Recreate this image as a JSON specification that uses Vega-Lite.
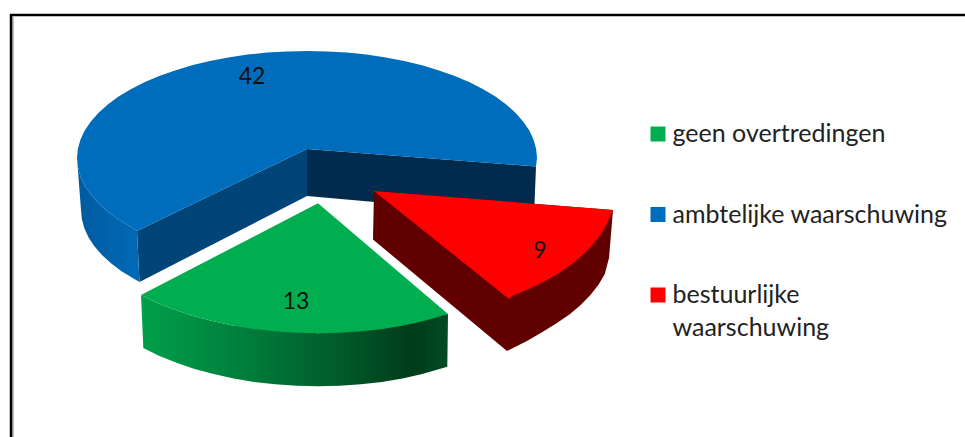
{"$schema":"https://vega.github.io/schema/vega-lite/v6.json","width":965,"height":437,"padding":0,"autosize":"none","background":"white","view":{"stroke":null},
"config":{"style":{"guide-label":{"lineHeight":32.5}}},
"data":{"values":[
{"part":"frame","i":0,"x":11,"y":437},{"part":"frame","i":1,"x":11,"y":15},{"part":"frame","i":2,"x":965,"y":15},
{"part":"frameShade","i":0,"x":13,"y":437},{"part":"frameShade","i":1,"x":13,"y":17},
{"part":"blueOuter","i":0,"x":77,"y":158},{"part":"blueOuter","i":1,"x":77.9,"y":167.3},{"part":"blueOuter","i":2,"x":80.5,"y":176.6},{"part":"blueOuter","i":3,"x":84.8,"y":185.7},{"part":"blueOuter","i":4,"x":90.9,"y":194.6},{"part":"blueOuter","i":5,"x":98.6,"y":203.3},{"part":"blueOuter","i":6,"x":107.8,"y":211.5},{"part":"blueOuter","i":7,"x":118.6,"y":219.4},{"part":"blueOuter","i":8,"x":130.8,"y":226.8},{"part":"blueOuter","i":9,"x":137,"y":231},{"part":"blueOuter","i":10,"x":139.5,"y":282},{"part":"blueOuter","i":11,"x":133.9,"y":278.8},{"part":"blueOuter","i":12,"x":121.9,"y":271.4},{"part":"blueOuter","i":13,"x":111.3,"y":263.5},{"part":"blueOuter","i":14,"x":102.2,"y":255.2},{"part":"blueOuter","i":15,"x":94.6,"y":246.6},{"part":"blueOuter","i":16,"x":88.7,"y":237.7},{"part":"blueOuter","i":17,"x":84.4,"y":228.6},{"part":"blueOuter","i":18,"x":81.9,"y":219.3},{"part":"blueOuter","i":19,"x":81,"y":210},
{"part":"blueLeft","i":0,"x":137,"y":231},{"part":"blueLeft","i":1,"x":307,"y":149},{"part":"blueLeft","i":2,"x":307,"y":196},{"part":"blueLeft","i":3,"x":139.5,"y":282},
{"part":"blueRight","i":0,"x":307,"y":149},{"part":"blueRight","i":1,"x":536,"y":166.5},{"part":"blueRight","i":2,"x":534,"y":216},{"part":"blueRight","i":3,"x":307,"y":196},
{"part":"greenSide","i":0,"x":141,"y":295},{"part":"greenSide","i":1,"x":157.3,"y":302.9},{"part":"greenSide","i":2,"x":174.6,"y":309.8},{"part":"greenSide","i":3,"x":193,"y":315.9},{"part":"greenSide","i":4,"x":212.3,"y":321.1},{"part":"greenSide","i":5,"x":232.5,"y":325.5},{"part":"greenSide","i":6,"x":318,"y":333.3},{"part":"greenSide","i":7,"x":448,"y":314},{"part":"greenSide","i":8,"x":447.3,"y":366.7},{"part":"greenSide","i":9,"x":422.3,"y":374.1},{"part":"greenSide","i":10,"x":402.4,"y":378.5},{"part":"greenSide","i":11,"x":381.9,"y":381.9},{"part":"greenSide","i":12,"x":360.8,"y":384.3},{"part":"greenSide","i":13,"x":339.5,"y":385.8},{"part":"greenSide","i":14,"x":318,"y":386.3},{"part":"greenSide","i":15,"x":296.5,"y":385.8},{"part":"greenSide","i":16,"x":275.2,"y":384.3},{"part":"greenSide","i":17,"x":254.1,"y":381.9},{"part":"greenSide","i":18,"x":233.6,"y":378.5},{"part":"greenSide","i":19,"x":213.7,"y":374.1},{"part":"greenSide","i":20,"x":194.6,"y":368.9},{"part":"greenSide","i":21,"x":176.5,"y":362.8},{"part":"greenSide","i":22,"x":159.4,"y":355.9},{"part":"greenSide","i":23,"x":143.3,"y":348},
{"part":"redSide","i":0,"x":374,"y":191},{"part":"redSide","i":1,"x":613,"y":210},{"part":"redSide","i":2,"x":609,"y":258},{"part":"redSide","i":3,"x":604.8,"y":274},{"part":"redSide","i":4,"x":598.5,"y":284.8},{"part":"redSide","i":5,"x":590.4,"y":295.1},{"part":"redSide","i":6,"x":580.7,"y":305},{"part":"redSide","i":7,"x":569.4,"y":314.4},{"part":"redSide","i":8,"x":556.6,"y":323.3},{"part":"redSide","i":9,"x":542.4,"y":332},{"part":"redSide","i":10,"x":527,"y":341},{"part":"redSide","i":11,"x":515,"y":347},{"part":"redSide","i":12,"x":507,"y":351},{"part":"redSide","i":13,"x":373,"y":239.5},
{"part":"top","category":"ambtelijke waarschuwing","i":0,"x":307,"y":149},{"part":"top","category":"ambtelijke waarschuwing","i":1,"x":137,"y":231},{"part":"top","category":"ambtelijke waarschuwing","i":2,"x":130.8,"y":226.8},{"part":"top","category":"ambtelijke waarschuwing","i":3,"x":118.6,"y":219.4},{"part":"top","category":"ambtelijke waarschuwing","i":4,"x":107.8,"y":211.5},{"part":"top","category":"ambtelijke waarschuwing","i":5,"x":98.6,"y":203.3},{"part":"top","category":"ambtelijke waarschuwing","i":6,"x":90.9,"y":194.6},{"part":"top","category":"ambtelijke waarschuwing","i":7,"x":84.8,"y":185.7},{"part":"top","category":"ambtelijke waarschuwing","i":8,"x":80.5,"y":176.6},{"part":"top","category":"ambtelijke waarschuwing","i":9,"x":77.9,"y":167.3},{"part":"top","category":"ambtelijke waarschuwing","i":10,"x":77,"y":158},{"part":"top","category":"ambtelijke waarschuwing","i":11,"x":77.9,"y":148.7},{"part":"top","category":"ambtelijke waarschuwing","i":12,"x":80.5,"y":139.4},{"part":"top","category":"ambtelijke waarschuwing","i":13,"x":84.8,"y":130.3},{"part":"top","category":"ambtelijke waarschuwing","i":14,"x":90.9,"y":121.4},{"part":"top","category":"ambtelijke waarschuwing","i":15,"x":98.6,"y":112.7},{"part":"top","category":"ambtelijke waarschuwing","i":16,"x":107.8,"y":104.5},{"part":"top","category":"ambtelijke waarschuwing","i":17,"x":118.6,"y":96.6},{"part":"top","category":"ambtelijke waarschuwing","i":18,"x":130.8,"y":89.2},{"part":"top","category":"ambtelijke waarschuwing","i":19,"x":144.4,"y":82.3},{"part":"top","category":"ambtelijke waarschuwing","i":20,"x":159.2,"y":76},{"part":"top","category":"ambtelijke waarschuwing","i":21,"x":175,"y":70.4},{"part":"top","category":"ambtelijke waarschuwing","i":22,"x":192,"y":65.3},{"part":"top","category":"ambtelijke waarschuwing","i":23,"x":209.8,"y":61.1},{"part":"top","category":"ambtelijke waarschuwing","i":24,"x":228.3,"y":57.4},{"part":"top","category":"ambtelijke waarschuwing","i":25,"x":247.4,"y":54.6},{"part":"top","category":"ambtelijke waarschuwing","i":26,"x":267,"y":52.6},{"part":"top","category":"ambtelijke waarschuwing","i":27,"x":287,"y":51.4},{"part":"top","category":"ambtelijke waarschuwing","i":28,"x":307,"y":51},{"part":"top","category":"ambtelijke waarschuwing","i":29,"x":327,"y":51.4},{"part":"top","category":"ambtelijke waarschuwing","i":30,"x":347,"y":52.6},{"part":"top","category":"ambtelijke waarschuwing","i":31,"x":366.6,"y":54.6},{"part":"top","category":"ambtelijke waarschuwing","i":32,"x":385.7,"y":57.4},{"part":"top","category":"ambtelijke waarschuwing","i":33,"x":404.2,"y":61.1},{"part":"top","category":"ambtelijke waarschuwing","i":34,"x":422,"y":65.3},{"part":"top","category":"ambtelijke waarschuwing","i":35,"x":439,"y":70.4},{"part":"top","category":"ambtelijke waarschuwing","i":36,"x":454.8,"y":76},{"part":"top","category":"ambtelijke waarschuwing","i":37,"x":469.6,"y":82.3},{"part":"top","category":"ambtelijke waarschuwing","i":38,"x":483.2,"y":89.2},{"part":"top","category":"ambtelijke waarschuwing","i":39,"x":495.4,"y":96.6},{"part":"top","category":"ambtelijke waarschuwing","i":40,"x":506.2,"y":104.5},{"part":"top","category":"ambtelijke waarschuwing","i":41,"x":515.4,"y":112.7},{"part":"top","category":"ambtelijke waarschuwing","i":42,"x":523.1,"y":121.4},{"part":"top","category":"ambtelijke waarschuwing","i":43,"x":529.2,"y":130.3},{"part":"top","category":"ambtelijke waarschuwing","i":44,"x":533.5,"y":139.4},{"part":"top","category":"ambtelijke waarschuwing","i":45,"x":536.1,"y":148.7},{"part":"top","category":"ambtelijke waarschuwing","i":46,"x":537,"y":158},{"part":"top","category":"ambtelijke waarschuwing","i":47,"x":536,"y":166.5},
{"part":"top","category":"geen overtredingen","i":0,"x":318,"y":203.3},{"part":"top","category":"geen overtredingen","i":1,"x":448,"y":314},{"part":"top","category":"geen overtredingen","i":2,"x":423.7,"y":321.1},{"part":"top","category":"geen overtredingen","i":3,"x":403.5,"y":325.5},{"part":"top","category":"geen overtredingen","i":4,"x":382.7,"y":328.9},{"part":"top","category":"geen overtredingen","i":5,"x":361.4,"y":331.3},{"part":"top","category":"geen overtredingen","i":6,"x":339.8,"y":332.8},{"part":"top","category":"geen overtredingen","i":7,"x":318,"y":333.3},{"part":"top","category":"geen overtredingen","i":8,"x":296.2,"y":332.8},{"part":"top","category":"geen overtredingen","i":9,"x":274.6,"y":331.3},{"part":"top","category":"geen overtredingen","i":10,"x":253.3,"y":328.9},{"part":"top","category":"geen overtredingen","i":11,"x":232.5,"y":325.5},{"part":"top","category":"geen overtredingen","i":12,"x":212.3,"y":321.1},{"part":"top","category":"geen overtredingen","i":13,"x":193,"y":315.9},{"part":"top","category":"geen overtredingen","i":14,"x":174.6,"y":309.8},{"part":"top","category":"geen overtredingen","i":15,"x":157.3,"y":302.9},{"part":"top","category":"geen overtredingen","i":16,"x":141,"y":295},
{"part":"top","category":"bestuurlijke waarschuwing","i":0,"x":374,"y":191},{"part":"top","category":"bestuurlijke waarschuwing","i":1,"x":613,"y":210},{"part":"top","category":"bestuurlijke waarschuwing","i":2,"x":606.8,"y":224.1},{"part":"top","category":"bestuurlijke waarschuwing","i":3,"x":600.5,"y":234.8},{"part":"top","category":"bestuurlijke waarschuwing","i":4,"x":592.4,"y":245.1},{"part":"top","category":"bestuurlijke waarschuwing","i":5,"x":582.7,"y":255},{"part":"top","category":"bestuurlijke waarschuwing","i":6,"x":571.4,"y":264.4},{"part":"top","category":"bestuurlijke waarschuwing","i":7,"x":558.6,"y":273.3},{"part":"top","category":"bestuurlijke waarschuwing","i":8,"x":544.4,"y":281.5},{"part":"top","category":"bestuurlijke waarschuwing","i":9,"x":529,"y":289},{"part":"top","category":"bestuurlijke waarschuwing","i":10,"x":512.3,"y":295.8},{"part":"top","category":"bestuurlijke waarschuwing","i":11,"x":509,"y":299}
]},
"encoding":{"x":{"field":"x","type":"quantitative","scale":{"domain":[0,965],"nice":false,"zero":false},"axis":null},"y":{"field":"y","type":"quantitative","scale":{"domain":[437,0],"nice":false,"zero":false},"axis":null},"order":{"field":"i"}},
"layer":[
{"transform":[{"filter":"datum.part=='frameShade'"}],"mark":{"type":"line","stroke":"#aaaaaa","strokeWidth":1.5}},
{"transform":[{"filter":"datum.part=='frame'"}],"mark":{"type":"line","stroke":"#000000","strokeWidth":2.5}},
{"transform":[{"filter":"datum.part=='blueRight'"}],"mark":{"type":"line","fill":"#002b4d","strokeWidth":0}},
{"transform":[{"filter":"datum.part=='blueLeft'"}],"mark":{"type":"line","fill":"#004478","strokeWidth":0}},
{"transform":[{"filter":"datum.part=='blueOuter'"}],"mark":{"type":"line","strokeWidth":0,"fill":{"gradient":"linear","x1":0,"y1":0,"x2":1,"y2":0,"stops":[{"offset":0,"color":"#005a9e"},{"offset":1,"color":"#006ab8"}]}}},
{"transform":[{"filter":"datum.part=='greenSide'"}],"mark":{"type":"line","strokeWidth":0,"fill":{"gradient":"linear","x1":0,"y1":0,"x2":1,"y2":0,"stops":[{"offset":0,"color":"#00a04c"},{"offset":0.35,"color":"#007c3a"},{"offset":0.65,"color":"#005a2b"},{"offset":0.88,"color":"#003c1b"},{"offset":1,"color":"#004a24"}]}}},
{"transform":[{"filter":"datum.part=='redSide'"}],"mark":{"type":"line","fill":"#600000","strokeWidth":0}},
{"transform":[{"filter":"datum.part=='top'"}],"mark":{"type":"line","filled":true,"strokeWidth":0},"encoding":{"color":{"field":"category","type":"nominal","scale":{"domain":["geen overtredingen","ambtelijke waarschuwing","bestuurlijke waarschuwing"],"range":["#00ae4f","#006cbc","#ff0000"]},"legend":{"title":null,"orient":"none","legendX":645.5,"legendY":121.5,"padding":0,"symbolType":"square","symbolSize":225,"symbolStrokeWidth":0,"labelFont":"Lato","labelFontSize":25,"labelColor":"#222222","labelLimit":320,"labelOffset":2,"rowPadding":54.5,"labelExpr":"datum.label=='bestuurlijke waarschuwing'?['bestuurlijke','waarschuwing']:datum.label"}}}},
{"data":{"values":[{"category":"ambtelijke waarschuwing","value":42,"x":252,"y":77},{"category":"geen overtredingen","value":13,"x":296,"y":302},{"category":"bestuurlijke waarschuwing","value":9,"x":540,"y":251}]},"mark":{"type":"text","font":"Lato","fontSize":23,"color":"#111111","baseline":"middle"},"encoding":{"text":{"field":"value","type":"quantitative"},"order":{"value":null}}}
]}
